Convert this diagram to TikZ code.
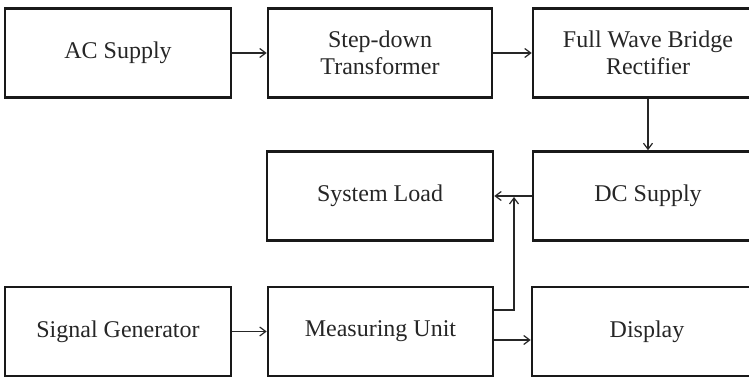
\documentclass[tikz,border=0pt]{standalone}
\usepackage{fontspec}
\setmainfont{Liberation Serif}
\usetikzlibrary{arrows.meta,calc}
\begin{document}
\begin{tikzpicture}[x=1pt,y=-1pt,
  blk/.style={draw=black!90, line width=2.6pt, rectangle, minimum width=#1, minimum height=89pt,
    inner sep=0pt, align=center, font=\fontsize{24}{27.5}\selectfont, text=black!85},
  blk/.default=226pt,
  conn/.style={draw=black!85, line width=1.2pt, -{Straight Barb[length=6pt,width=9pt,line width=1.2pt]}}]
\useasboundingbox (0,0) rectangle (749,378);
\clip (0,0) rectangle (749,378);
\node[blk] (ac) at (118,53) {AC Supply};
\node[blk=224pt] (step) at (380,53) {Step-down\\Transformer};
\node[blk=230pt] (fwbr) at (648,53) {Full Wave Bridge\\Rectifier};
\node[blk] (sys) at (380,196) {System Load};
\node[blk=230pt] (dc) at (648,196) {DC Supply};
\node[blk] (sig) at (118,331.5) {Signal Generator};
\node[blk=225pt] (meas) at (380.5,331.5) {Measuring Unit};
\node[blk=230pt] (disp) at (647,331.5) {Display};
\coordinate (j) at (514,197);
\coordinate (m1) at ($(meas.east)+(0,-21.5)$);
\coordinate (m2) at ($(meas.east)+(0,8.5)$);
\draw[conn] (ac.east) -- (step.west);
\draw[conn] (step.east) -- (fwbr.west);
\draw[conn] (fwbr.south) -- (dc.north);
\draw[conn] (dc.west) -- (sys.east);
\draw[conn] (sig.east) -- (meas.west);
\draw[conn] (m1) -| (j);
\draw[conn] (m2) -- (m2 -| disp.west);
\end{tikzpicture}
\end{document}
